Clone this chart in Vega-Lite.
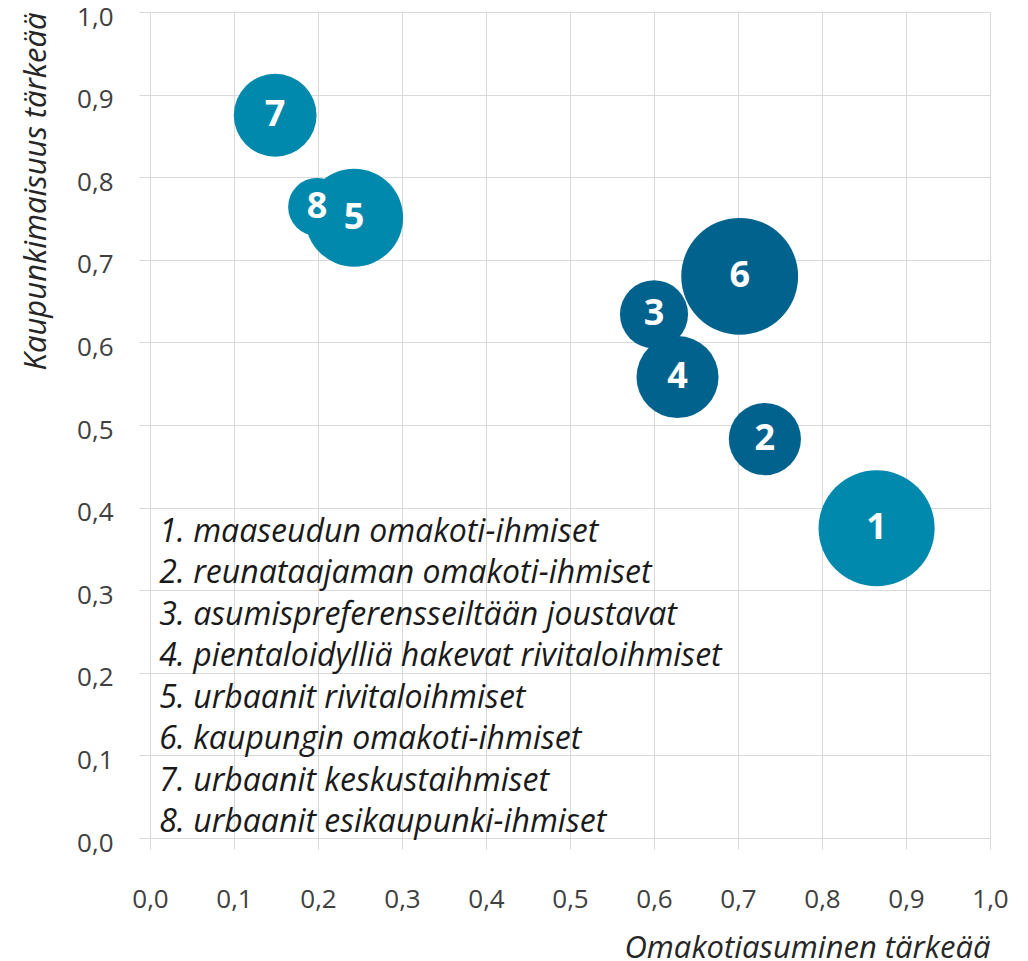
{
  "$schema": "https://vega.github.io/schema/vega-lite/v6.json",
  "width": 840,
  "height": 826,
  "autosize": {"type": "none"},
  "padding": {"left": 150, "top": 12, "right": 38, "bottom": 123},
  "background": "white",
  "config": {
    "view": {"stroke": null},
    "font": "Open Sans",
    "axis": {
      "grid": true,
      "gridColor": "#d9d9d9",
      "gridWidth": 1,
      "tickColor": "#d9d9d9",
      "tickSize": 11,
      "domain": false,
      "labelFont": "Open Sans",
      "labelFontSize": 26,
      "labelColor": "#404040",
      "labelFlush": false,
      "labelOverlap": false,
      "titleFont": "Open Sans",
      "titleFontStyle": "italic",
      "titleFontWeight": "normal",
      "titleFontSize": 31,
      "titleColor": "#262626"
    }
  },
  "datasets": {
    "ryhmat": [
      {"nro": "1", "selite": "1. maaseudun omakoti-ihmiset", "omakoti": 0.865, "kaupunki": 0.375, "osuus": 21.2, "klusteri": "A"},
      {"nro": "2", "selite": "2. reunataajaman omakoti-ihmiset", "omakoti": 0.732, "kaupunki": 0.483, "osuus": 8.2, "klusteri": "B"},
      {"nro": "3", "selite": "3. asumispreferensseiltään joustavat", "omakoti": 0.6, "kaupunki": 0.634, "osuus": 7.3, "klusteri": "B"},
      {"nro": "4", "selite": "4. pientaloidylliä hakevat rivitaloihmiset", "omakoti": 0.628, "kaupunki": 0.558, "osuus": 10.6, "klusteri": "B"},
      {"nro": "5", "selite": "5. urbaanit rivitaloihmiset", "omakoti": 0.243, "kaupunki": 0.751, "osuus": 15.1, "klusteri": "A"},
      {"nro": "6", "selite": "6. kaupungin omakoti-ihmiset", "omakoti": 0.702, "kaupunki": 0.68, "osuus": 21.5, "klusteri": "B"},
      {"nro": "7", "selite": "7. urbaanit keskustaihmiset", "omakoti": 0.149, "kaupunki": 0.875, "osuus": 10.8, "klusteri": "A"},
      {"nro": "8", "selite": "8. urbaanit esikaupunki-ihmiset", "omakoti": 0.199, "kaupunki": 0.764, "osuus": 5.3, "klusteri": "A"}
    ]
  },
  "data": {"name": "ryhmat"},
  "layer": [
    {
      "encoding": {
        "x": {
          "field": "omakoti",
          "type": "quantitative",
          "scale": {"domain": [0, 1], "nice": false},
          "axis": {
            "title": "Omakotiasuminen tärkeää",
            "values": [0, 0.1, 0.2, 0.3, 0.4, 0.5, 0.6, 0.7, 0.8, 0.9, 1],
            "labelExpr": "replace(format(datum.value, '.1f'), '.', ',')",
            "labelPadding": 37,
            "titlePadding": 21,
            "titleAnchor": "end"
          }
        },
        "y": {
          "field": "kaupunki",
          "type": "quantitative",
          "scale": {"domain": [0, 1], "nice": false},
          "axis": {
            "title": "Kaupunkimaisuus tärkeää",
            "values": [0, 0.1, 0.2, 0.3, 0.4, 0.5, 0.6, 0.7, 0.8, 0.9, 1],
            "labelExpr": "replace(format(datum.value, '.1f'), '.', ',')",
            "labelPadding": 26,
            "labelOffset": 5,
            "titlePadding": 24,
            "titleAnchor": "end"
          }
        }
      },
      "layer": [
        {
          "mark": {"type": "circle", "opacity": 1},
          "encoding": {
            "size": {"field": "osuus", "type": "quantitative", "scale": {"type": "linear", "domain": [0, 100], "range": [0, 63530]}, "legend": null},
            "color": {"field": "klusteri", "type": "nominal", "scale": {"domain": ["A", "B"], "range": ["#0089ad", "#02628e"]}, "legend": null}
          }
        },
        {
          "mark": {"type": "text", "font": "Open Sans", "fontWeight": "bold", "fontSize": 36, "color": "white", "align": "center", "baseline": "middle"},
          "encoding": {"text": {"field": "nro"}}
        }
      ]
    },
    {
      "mark": {"type": "text", "font": "Open Sans", "fontStyle": "italic", "fontSize": 32, "color": "#1a1a1a", "align": "left", "baseline": "middle"},
      "encoding": {
        "x": {"datum": 0.011, "type": "quantitative"},
        "y": {"field": "nro", "type": "ordinal", "scale": {"type": "point", "range": [520, 810], "padding": 0}, "axis": null},
        "text": {"field": "selite"}
      }
    }
  ],
  "resolve": {"scale": {"y": "independent"}, "axis": {"y": "independent"}}
}
